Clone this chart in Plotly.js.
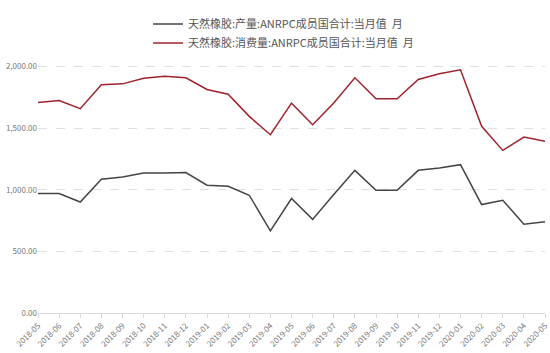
<!DOCTYPE html>
<html>
<head>
<meta charset="utf-8">
<script src="https://cdn.plot.ly/plotly-3.0.1.min.js"></script>
<style>html,body{margin:0;padding:0;background:#fff;}#chart{width:550px;height:353px;}</style>
</head>
<body>
<div id="chart"></div>
<script>
const months = ["2018-05","2018-06","2018-07","2018-08","2018-09","2018-10","2018-11","2018-12",
  "2019-01","2019-02","2019-03","2019-04","2019-05","2019-06","2019-07","2019-08","2019-09","2019-10",
  "2019-11","2019-12","2020-01","2020-02","2020-03","2020-04","2020-05"];
const production = [970,970,901,1085,1104,1136,1136,1140,1037,1029,956,667,929,760,961,1158,996,996,1158,1177,1204,880,915,721,740];
const consumption = [1709,1725,1658,1852,1860,1906,1922,1909,1814,1776,1596,1447,1703,1528,1705,1909,1739,1739,1895,1942,1974,1515,1320,1428,1393];
const seriesNames = ["天然橡胶:产量:ANRPC成员国合计:当月值  月","天然橡胶:消费量:ANRPC成员国合计:当月值  月"];
const yTicks = [0,500,1000,1500,2000,2500];

const traces = [
  {x: months, y: production, name: seriesNames[0], type: "scatter", mode: "lines",
   line: {color: "#444444", width: 1.5}},
  {x: months, y: consumption, name: seriesNames[1], type: "scatter", mode: "lines",
   line: {color: "#a0232c", width: 1.5}}
];
const layout = {
  width: 550, height: 353,
  margin: {l: 38, r: 5, t: 5, b: 40},
  paper_bgcolor: "#fff", plot_bgcolor: "#fff",
  font: {family: "Noto Sans CJK SC, sans-serif", color: "#666", size: 9},
  showlegend: true,
  legend: {x: 0.217, xanchor: "left", y: 0.985, yanchor: "top", bgcolor: "rgba(0,0,0,0)",
    font: {size: 11, color: "#555"}, itemwidth: 30, tracegroupgap: 0},
  xaxis: {type: "category", tickangle: -45, showgrid: false, showline: true, linecolor: "#d9d9d9",
    linewidth: 1, ticks: "outside", tickcolor: "#d9d9d9", ticklen: 4, tickfont: {size: 8, color: "#777"},
    zeroline: false, range: [0, 24], fixedrange: true},
  yaxis: {range: [0, 2500], tickvals: yTicks, tickformat: ",.2f", showgrid: true, gridcolor: "#e0e0e0",
    griddash: "dash", gridwidth: 1, zeroline: false, showline: false, tickfont: {size: 8, color: "#777"},
    ticks: "", fixedrange: true}
};
Plotly.newPlot("chart", traces, layout, {displayModeBar: false, staticPlot: true});
</script>
</body>
</html>
